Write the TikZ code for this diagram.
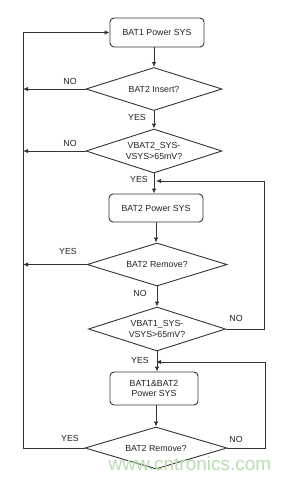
\documentclass[tikz,border=0pt]{standalone}
\usepackage{fontspec}
\setmainfont{Liberation Sans}
\usetikzlibrary{shapes.geometric,arrows.meta}
\definecolor{ln}{HTML}{333333}
\definecolor{tx}{HTML}{222222}
\definecolor{wm}{HTML}{B9DDB2}
\tikzset{
  every node/.style={text=tx,font=\fontsize{8.8}{10.5}\selectfont},
  procbox/.style={draw=ln,line width=0.9pt,rounded corners=4pt,align=center,inner sep=0pt},
  decide/.style={draw=ln,line width=0.9pt,diamond,aspect=3.2,inner sep=0pt,align=center},
  conn/.style={draw=ln,line width=0.9pt},
  arr/.style={conn,-{Latex[length=5pt,width=4.5pt]}},
  lbl/.style={inner sep=0pt}
}
\begin{document}
\begin{tikzpicture}[x=1pt,y=-1pt]
\useasboundingbox (0,0) rectangle (291,480);
\node[procbox,minimum width=94pt,minimum height=29pt] (b1) at (157,32.5) {BAT1 Power SYS};
\node[decide,minimum width=136pt,minimum height=43pt] (d1) at (154,89) {BAT2 Insert?};
\node[decide,minimum width=136pt,minimum height=44pt] (d2) at (154,151) {VBAT2\_SYS-\\VSYS>65mV?};
\node[procbox,minimum width=94pt,minimum height=28pt] (b2) at (156,208) {BAT2 Power SYS};
\node[decide,minimum width=140pt,minimum height=43pt] (d3) at (157,264.5) {BAT2 Remove?};
\node[decide,minimum width=137pt,minimum height=44pt] (d4) at (157,329) {VBAT1\_SYS-\\VSYS>65mV?};
\node[procbox,minimum width=88pt,minimum height=33pt] (b3) at (154,388.5) {BAT1\&BAT2\\Power SYS};
\node[decide,minimum width=142pt,minimum height=42pt] (d5) at (156,448) {BAT2 Remove?};

\coordinate (L) at (23,0);
\coordinate (R1) at (264,0);
\coordinate (R2) at (265,0);
\coordinate (j1) at (156,181);
\coordinate (j2) at (156,362);

% main vertical flow
\draw[arr] (b1.south -| 154,0) -- (154,67);
\draw[arr] (d1.south) -- (d2.north);
\draw[arr] (d2.south) -- (b2.north -| d2.south);
\draw[arr] (b2.south) -- (d3.north -| b2.south);
\draw[arr] (d3.south) -- (d4.north);
\draw[arr] (d4.south) -- (b3.north -| d4.south);
\draw[arr] (b3.south -| 156,0) -- (d5.north);

% left exits
\draw[arr] (d1.west) -- (d1.west -| L);
\draw[arr] (d2.west) -- (d2.west -| L);
\draw[arr] (d3.west) -- (d3.west -| L);
\draw[arr] (d5.west) -- (d5.west -| L) -- (L |- b1.west) -- (b1.west);

% right loops
\draw[arr] (d4.east) -- (d4.east -| R1) -- (R1 |- j1) -- (j1);
\draw[arr] (d5.east) -- (d5.east -| R2) -- (R2 |- j2) -- (j2);

% labels
\node[lbl] (n1) at (70,81) {NO};
\node[lbl] (y1) at (137,117) {YES};
\node[lbl] (n2) at (70,143) {NO};
\node[lbl] (y2) at (139,179) {YES};
\node[lbl] (y3) at (68,251) {YES};
\node[lbl] (n3) at (140,293) {NO};
\node[lbl] (n4) at (236,318) {NO};
\node[lbl] (y4) at (140,360) {YES};
\node[lbl] (y5) at (70,438) {YES};
\node[lbl] (n5) at (236,439) {NO};

% watermark
\node[lbl,text=wm,font=\fontsize{19}{20}\selectfont,anchor=base] (wmk) at (190,470) {www.cntronics.com};
\end{tikzpicture}
\end{document}
